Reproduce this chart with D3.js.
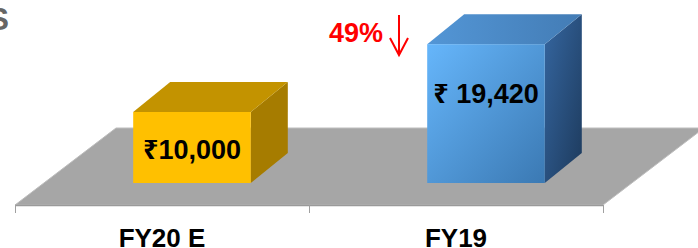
<!DOCTYPE html>
<html>
<head>
<meta charset="utf-8">
<script src="https://cdn.jsdelivr.net/npm/d3@7"></script>
<style>
html,body{margin:0;padding:0;background:#fff;}
svg{display:block;}
</style>
</head>
<body>
<svg id="chart" width="698" height="248"></svg>
<script>
const categories = ["FY20 E", "FY19"];
const values = [10000, 19420];
const valueLabels = ["₹10,000", "₹ 19,420"];
const changeLabel = "49%";
const titleTail = "S";

const W = 698, H = 248;
const svg = d3.select("#chart");
const FONT = "'Liberation Sans', Arial, 'Noto Sans', 'DejaVu Sans', sans-serif";

const x = d3.scaleBand().domain(categories).range([15, 603]).paddingInner(0).paddingOuter(0);
const y = d3.scaleLinear().domain([0, 20000]).range([184, 40]);

const floorY = 205;
const floorDX = 101, floorDY = -77;
const shiftX = 30;
const barW = x.bandwidth() * 0.4;
const depthDX = 37, depthDY = -30;

const defs = svg.append("defs");
const gFront = defs.append("linearGradient").attr("id", "blueFront")
  .attr("x1", "0%").attr("y1", "0%").attr("x2", "100%").attr("y2", "100%");
gFront.append("stop").attr("offset", "0%").attr("stop-color", "#66B6FB");
gFront.append("stop").attr("offset", "100%").attr("stop-color", "#3B79B3");
const gSide = defs.append("linearGradient").attr("id", "blueSide")
  .attr("x1", "0%").attr("y1", "0%").attr("x2", "100%").attr("y2", "100%");
gSide.append("stop").attr("offset", "0%").attr("stop-color", "#3566A0");
gSide.append("stop").attr("offset", "100%").attr("stop-color", "#1D3A5C");
const gTop = defs.append("linearGradient").attr("id", "blueTop")
  .attr("x1", "0%").attr("y1", "0%").attr("x2", "100%").attr("y2", "0%");
gTop.append("stop").attr("offset", "0%").attr("stop-color", "#5396D6");
gTop.append("stop").attr("offset", "100%").attr("stop-color", "#437CB5");

const styles = [
  {front: "#FFC000", top: "#C39300", side: "#A67C00"},
  {front: "url(#blueFront)", top: "url(#blueTop)", side: "url(#blueSide)"}
];

svg.append("text").attr("x", 9).attr("y", 30).attr("text-anchor", "end")
  .attr("font-family", FONT).attr("font-weight", "bold").attr("font-size", 31)
  .attr("fill", "#666666").text(titleTail);

const x0 = x.range()[0], x1 = x.range()[1];
svg.append("path")
  .attr("d", `M${x0},${floorY} L${x1},${floorY} L${x1 + floorDX},${floorY + floorDY} L${x0 + floorDX},${floorY + floorDY} Z`)
  .attr("fill", "#A6A6A6").attr("stroke", "#BDBDBD").attr("stroke-width", 1);
svg.append("line").attr("x1", x0).attr("x2", x1).attr("y1", floorY + 0.5).attr("y2", floorY + 0.5)
  .attr("stroke", "#9A9A9A").attr("stroke-width", 1.5);

const tickXs = categories.map(c => x(c)).concat([x(categories[categories.length - 1]) + x.bandwidth()]);
svg.selectAll(".tick").data(tickXs).enter().append("line")
  .attr("x1", d => d + 0.5).attr("x2", d => d + 0.5)
  .attr("y1", floorY).attr("y2", floorY + 8)
  .attr("stroke", "#A0A0A0").attr("stroke-width", 1);

svg.selectAll(".cat").data(categories).enter().append("text")
  .attr("x", d => x(d) + x.bandwidth() / 2)
  .attr("y", 247)
  .attr("text-anchor", "middle")
  .attr("font-family", FONT).attr("font-weight", "bold").attr("font-size", 26)
  .attr("fill", "#000").text(d => d);

const bars = svg.selectAll(".bar").data(categories.map((c, i) => ({c, v: values[i], i}))).enter()
  .append("g");
bars.each(function(d) {
  const g = d3.select(this);
  const left = x(d.c) + x.bandwidth() / 2 - barW / 2 + shiftX;
  const right = left + barW;
  const bottom = y(0) - 1;
  const top = y(d.v);
  const s = styles[d.i];
  g.append("path")
    .attr("d", `M${right},${top} L${right + depthDX},${top + depthDY} L${right + depthDX},${bottom + depthDY} L${right},${bottom} Z`)
    .attr("fill", s.side);
  g.append("path")
    .attr("d", `M${left},${top} L${left + depthDX},${top + depthDY} L${right + depthDX},${top + depthDY} L${right},${top} Z`)
    .attr("fill", s.top);
  g.append("rect").attr("x", left).attr("y", top).attr("width", barW).attr("height", bottom - top)
    .attr("fill", s.front);
  const ly = top + Math.min(59, (bottom - top) / 2 + 11);
  g.append("text").attr("x", left + barW / 2).attr("y", ly)
    .attr("text-anchor", "middle")
    .attr("font-family", FONT).attr("font-weight", "bold").attr("font-size", 27)
    .attr("fill", "#000").text(valueLabels[d.i]);
});

svg.append("text").attr("x", 356).attr("y", 42).attr("text-anchor", "middle")
  .attr("font-family", FONT).attr("font-weight", "bold").attr("font-size", 27)
  .attr("fill", "#FF0000").text(changeLabel);
const ax = 399;
svg.append("path")
  .attr("d", `M${ax},15 L${ax},55 M${ax - 9},38 L${ax},55 L${ax + 9},38`)
  .attr("fill", "none").attr("stroke", "#FF0000").attr("stroke-width", 2);
</script>
</body>
</html>
